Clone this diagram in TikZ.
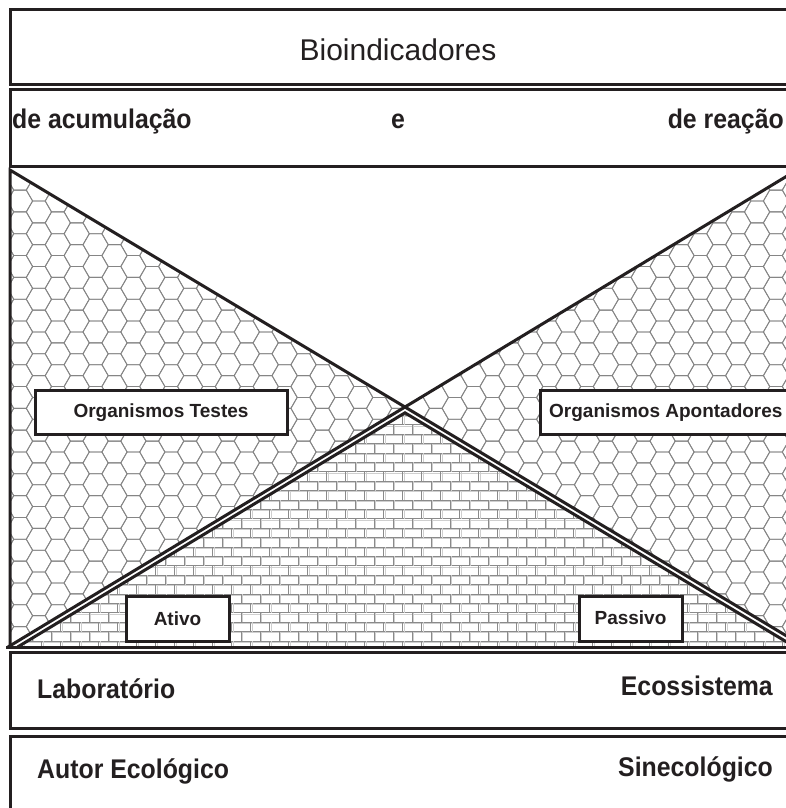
\documentclass[tikz,border=0pt]{standalone}
\usepackage{fontspec}
\setmainfont{Liberation Sans}
\newfontfamily\narrowsans[FakeStretch=0.92]{Liberation Sans}
\definecolor{ink}{HTML}{231F20}
\definecolor{hexgray}{HTML}{858585}
\definecolor{brickdark}{HTML}{8A8A8A}
\definecolor{bricklight}{HTML}{CFCFCF}
\tikzset{
  frame/.style={draw=ink, line width=3pt, fill=white, inner sep=0pt, outer sep=0pt},
  bigline/.style={draw=ink, line width=3pt, line join=miter},
  hexline/.style={draw=hexgray, line width=0.85pt},
  brickd/.style={draw=brickdark, line width=0.75pt},
  brickl/.style={draw=bricklight, line width=1pt},
  bigtxt/.style={inner sep=0pt, font=\narrowsans\fontsize{27}{32}\selectfont\bfseries, text=ink},
  titletxt/.style={inner sep=0pt, font=\fontsize{30}{36}\selectfont, text=ink},
  smalltxt/.style={inner sep=0pt, font=\fontsize{19}{23}\selectfont\bfseries, text=ink}
}
\begin{document}
\begin{tikzpicture}[x=1pt,y=-1pt]
\useasboundingbox (0,0) rectangle (786,808);
\clip (0,0) rectangle (786,808);
\fill[white] (0,0) rectangle (786,808);

% key points
\coordinate (TL) at (10,170);
\coordinate (TR) at (795,171.2);
\coordinate (C) at (405,407);
\coordinate (BLo) at (8,647);
\coordinate (BRo) at (795,641);
\coordinate (AP) at (405,412.8);
\coordinate (BLi) at (17.6,647);
\coordinate (BRi) at (795,647);
\coordinate (HL) at (6,647);
\coordinate (HR) at (800,647);
\coordinate (VB) at (10,647);

% honeycomb areas
\begin{scope}
\clip (TL) -- (C) -- (VB) -- cycle (TR) -- (C) -- (BRo) -- cycle;
\pgfmathsetmacro\ha{12.6}
\pgfmathsetmacro\hh{sqrt(3)*\ha}
\foreach \i in {0,...,43} {
  \foreach \j in {0,...,24} {
    \pgfmathsetmacro\cx{1.1+\i*1.5*\ha}
    \pgfmathsetmacro\cy{146.45+\j*\hh+mod(\i,2)*\hh/2}
    \draw[hexline] (\cx-\ha,\cy) -- ++(\ha/2,-\hh/2) -- ++(\ha,0) -- ++(\ha/2,\hh/2) -- ++(-\ha/2,\hh/2) -- ++(-\ha,0) -- cycle;
  }
}
\end{scope}

% brick area
\begin{scope}
\clip (BLi) -- (AP) -- (BRi) -- cycle;
\foreach \k in {-10,...,16} {
  \pgfmathsetmacro\yk{500+9.4*\k}
  \draw[brickl] (0,\yk+1.3) -- (800,\yk+1.3);
  \draw[brickd] (0,\yk) -- (800,\yk);
}
\foreach \k in {-10,...,15} {
  \pgfmathsetmacro\yk{500+9.4*\k}
  \foreach \m in {-21,...,22} {
    \pgfmathsetmacro\xm{393.3+19*\m-9.5*mod(abs(\k),2)}
    \draw[brickl] (\xm+1.3,\yk) -- (\xm+1.3,\yk+9.4);
    \draw[brickd] (\xm,\yk) -- (\xm,\yk+9.4);
  }
}
\end{scope}

% heavy lines
\draw[bigline] (C) -- (TL) -- (VB);
\draw[bigline] (TR) -- (C) -- (BLo);
\draw[bigline] (C) -- (BRo);
\draw[bigline] (BLi) -- (AP) -- (BRi);
\draw[bigline] (HL) -- (HR);

% band boxes
\node[frame, minimum width=790pt, minimum height=74pt] (band1) at (405,47) {};
\node[frame, minimum width=790pt, minimum height=77pt] (band2) at (405,127.5) {};
\node[frame, minimum width=790pt, minimum height=76pt] (band3) at (405,690) {};
\node[frame, minimum width=790pt, minimum height=94pt] (band4) at (405,783) {};

\node[titletxt, anchor=base] (tBio) at (398,61) {Bioindicadores};
\node[bigtxt, anchor=base west] (tAcu) at (12,128) {de acumulação};
\node[bigtxt, anchor=base] (tE) at (398,128) {e};
\node[bigtxt, anchor=base east] (tRea) at (784,128) {de reação};
\node[bigtxt, anchor=base west] (tLab) at (37,698) {Laboratório};
\node[bigtxt, anchor=base east] (tEco) at (773,695) {Ecossistema};
\node[bigtxt, anchor=base west] (tAut) at (37,778) {Autor Ecológico};
\node[bigtxt, anchor=base east] (tSin) at (773,776) {Sinecológico};

% label boxes
\node[frame, minimum width=252pt, minimum height=44pt] (bTes) at (161,412) {};
\node[smalltxt, anchor=base] (tTes) at (161,417.5) {Organismos Testes};
\node[frame, minimum width=260pt, minimum height=44pt] (bApo) at (670,412) {};
\node[smalltxt, anchor=base west] (tApo) at (549,417.5) {Organismos Apontadores};
\node[frame, minimum width=103pt, minimum height=45pt] (bAti) at (177.5,618.5) {};
\node[smalltxt, anchor=base] (tAti) at (177.5,625) {Ativo};
\node[frame, minimum width=103pt, minimum height=45pt] (bPas) at (630.5,618.5) {};
\node[smalltxt, anchor=base] (tPas) at (630.5,624) {Passivo};
\end{tikzpicture}
\end{document}
